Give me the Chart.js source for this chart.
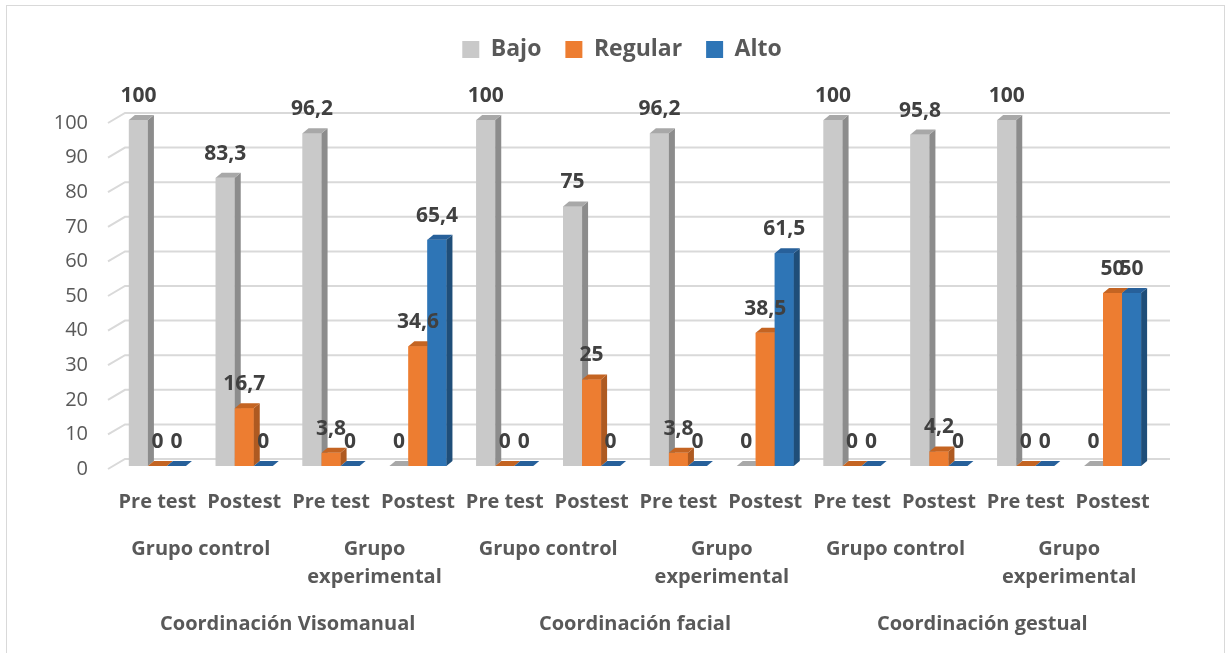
<!DOCTYPE html>
<html>
<head>
<meta charset="utf-8">
<script src="https://cdn.jsdelivr.net/npm/chart.js@4/dist/chart.umd.min.js"></script>
<style>
  body { margin: 0; background: #fff; }
  #wrap { position: relative; width: 1229px; height: 653px; }
  #frame { position: absolute; left: 6px; top: 5px; width: 1217px; height: 660px; border: 1px solid #d9d9d9; }
  canvas { position: absolute; left: 0; top: 0; }
</style>
</head>
<body>
<div id="wrap">
  <div id="frame"></div>
  <canvas id="chart" width="1229" height="653"></canvas>
</div>
<script>
// chart data
const tests = ['Pre test', 'Postest', 'Pre test', 'Postest', 'Pre test', 'Postest',
               'Pre test', 'Postest', 'Pre test', 'Postest', 'Pre test', 'Postest'];
const groups = ['Grupo control', ['Grupo', 'experimental'], 'Grupo control', ['Grupo', 'experimental'],
                'Grupo control', ['Grupo', 'experimental']];
const dimensions = ['Coordinación Visomanual', 'Coordinación facial', 'Coordinación gestual'];

const bajo    = [100, 83.3, 96.2, 0, 100, 75, 96.2, 0, 100, 95.8, 100, 0];
const regular = [0, 16.7, 3.8, 34.6, 0, 25, 3.8, 38.5, 0, 4.2, 0, 50];
const alto    = [0, 0, 0, 65.4, 0, 0, 0, 61.5, 0, 0, 0, 50];

const FONT = 'Open Sans';
const DX = 6, DY = 5;

// front / side / top colours per series
const faces = [
    { front: '#c9c9c9', side: '#8c8c8c', top: '#a8a8a8' },
    { front: '#ed7d31', side: '#ae5a21', top: '#c46422' },
    { front: '#2e75b6', side: '#1f4e79', top: '#27609a' }
];

function fmt(v) {
    return String(v).replace('.', ',');
}

// fake 3D look: back-wall gridlines, side + top faces, value labels
var bar3d = {
    id: 'bar3d',
    beforeInit: function (chart) {
        var fit = chart.legend.fit;
        chart.legend.fit = function () {
            fit.call(this);
            this.height = 106;
        };
    },
    afterLayout: function (chart) {
        // legend sits a bit right of centre in the original
        chart.legend.left += 37;
        chart.legend.right += 37;
    },
    beforeDatasetsDraw: function (chart) {
        var ctx = chart.ctx, area = chart.chartArea, ys = chart.scales.y;
        ctx.save();
        ctx.strokeStyle = '#d9d9d9';
        ctx.lineWidth = 2;
        ys.ticks.forEach(function (t) {
            var py = ys.getPixelForValue(t.value);
            ctx.beginPath();
            ctx.moveTo(area.left - 6, py + 3);
            ctx.lineTo(area.left + 11, py - 7);
            ctx.lineTo(area.right + 14, py - 7);
            ctx.stroke();
        });
        ctx.restore();
    },
    afterDatasetsDraw: function (chart) {
        var ctx = chart.ctx;
        var n = chart.data.labels.length;
        ctx.save();
        for (var i = 0; i < n; i++) {
            chart.data.datasets.forEach(function (ds, d) {
                var bar = chart.getDatasetMeta(d).data[i];
                var p = bar.getProps(['x', 'y', 'base', 'width'], true);
                var l = p.x - p.width / 2, r = p.x + p.width / 2;
                var c = faces[d];
                // front
                ctx.fillStyle = c.front;
                ctx.fillRect(l, p.y, p.width, p.base - p.y);
                // side
                ctx.fillStyle = c.side;
                ctx.beginPath();
                ctx.moveTo(r, p.y);
                ctx.lineTo(r + DX, p.y - DY);
                ctx.lineTo(r + DX, p.base - DY);
                ctx.lineTo(r, p.base);
                ctx.closePath();
                ctx.fill();
                // top
                ctx.fillStyle = c.top;
                ctx.beginPath();
                ctx.moveTo(l, p.y);
                ctx.lineTo(l + DX, p.y - DY);
                ctx.lineTo(r + DX, p.y - DY);
                ctx.lineTo(r, p.y);
                ctx.closePath();
                ctx.fill();
            });
        }
        ctx.fillStyle = '#404040';
        ctx.font = 'bold 21px ' + FONT;
        ctx.textAlign = 'center';
        ctx.textBaseline = 'middle';
        chart.data.datasets.forEach(function (ds, d) {
            chart.getDatasetMeta(d).data.forEach(function (bar, i) {
                var p = bar.getProps(['x', 'y'], true);
                ctx.fillText(fmt(ds.data[i]), p.x, p.y - 24);
            });
        });
        ctx.restore();
    }
};

var labelFont = { family: FONT, size: 20, weight: 'bold' };

new Chart(document.getElementById('chart'), {
    type: 'bar',
    data: {
        labels: tests,
        datasets: [
            { label: 'Bajo', data: bajo, backgroundColor: faces[0].front },
            { label: 'Regular', data: regular, backgroundColor: faces[1].front },
            { label: 'Alto', data: alto, backgroundColor: faces[2].front }
        ]
    },
    options: {
        responsive: false,
        animation: false,
        events: [],
        categoryPercentage: 0.657,
        barPercentage: 1,
        layout: { padding: { top: 14, left: 14, right: 73, bottom: 0 } },
        plugins: {
            tooltip: { enabled: false },
            legend: {
                position: 'top',
                labels: {
                    boxWidth: 17,
                    boxHeight: 17,
                    padding: 24,
                    color: '#595959',
                    font: { family: FONT, size: 23, weight: 'bold' }
                }
            }
        },
        scales: {
            y: {
                min: 0,
                max: 100,
                afterFit: function (s) { s.width = 100; },
                border: { display: false },
                grid: { display: false, drawTicks: false },
                ticks: {
                    stepSize: 10,
                    padding: 26,
                    labelOffset: 3,
                    color: '#595959',
                    font: { family: FONT, size: 20 }
                }
            },
            x: {
                weight: 0,
                afterFit: function (s) { s.height = 60; },
                border: { display: false },
                grid: { display: false, drawTicks: false },
                ticks: { padding: 24, color: '#595959', font: labelFont, maxRotation: 0, autoSkip: false }
            },
            x2: {
                type: 'category',
                position: 'bottom',
                weight: 1,
                labels: groups,
                afterFit: function (s) { s.height = 70; },
                border: { display: false },
                grid: { display: false, drawTicks: false },
                ticks: { padding: 9, color: '#595959', font: { family: FONT, size: 20, weight: 'bold', lineHeight: 1.4 }, maxRotation: 0, autoSkip: false }
            },
            x3: {
                type: 'category',
                position: 'bottom',
                weight: 2,
                labels: dimensions,
                afterFit: function (s) { s.height = 57; },
                border: { display: false },
                grid: { display: false, drawTicks: false },
                ticks: { padding: 16, color: '#595959', font: labelFont, maxRotation: 0, autoSkip: false }
            }
        }
    },
    plugins: [bar3d]
});
</script>
</body>
</html>
